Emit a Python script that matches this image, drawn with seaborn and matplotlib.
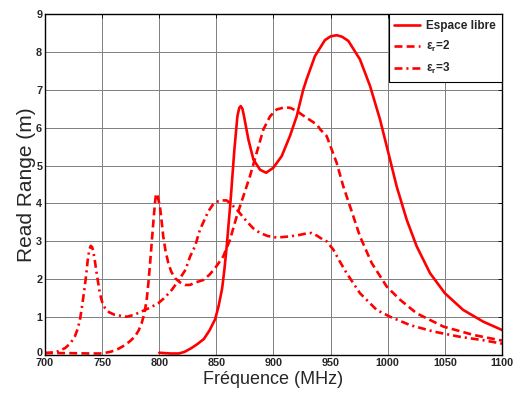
import matplotlib
matplotlib.use("Agg")
import matplotlib.pyplot as plt
import matplotlib.transforms as mtransforms
import seaborn as sns

# ---- Data ----
freq_libre = [800, 810, 817, 822, 828, 833, 839, 844, 849, 852, 855, 857, 859, 862.5, 865.7,
              868.4, 870, 871.3, 872.8, 874.2, 878, 882.4, 888.2, 893.5, 899.8, 907.2, 914.4,
              920.3, 923.2, 926, 929, 936.3, 945, 950, 955.3, 960, 965.5, 975.7, 984.5, 993.2,
              1000.5, 1007.8, 1016.6, 1025.3, 1037, 1050, 1066, 1083.6, 1100]
rr_libre = [0.06, 0.04, 0.04, 0.08, 0.18, 0.28, 0.42, 0.65, 0.95, 1.3, 1.75, 2.25, 2.85, 4.1, 5.4,
            6.3, 6.52, 6.57, 6.5, 6.3, 5.69, 5.16, 4.89, 4.81, 4.94, 5.25, 5.78,
            6.3, 6.66, 7.0, 7.28, 7.89, 8.31, 8.41, 8.44, 8.4, 8.29, 7.8, 7.1, 6.22,
            5.34, 4.45, 3.57, 2.87, 2.16, 1.63, 1.19, 0.88, 0.66]

freq_er2 = [700, 720, 740, 750, 758, 764, 770, 775, 779, 782, 784.6, 787, 789, 790.5, 792,
            793.5, 795, 796.2, 797.2, 798.5, 800.6, 802, 803.5, 805.5, 807.9, 810.5, 813.8,
            818, 822.5, 827, 831.3, 838.6, 844, 848.8, 856, 861.9, 867.8, 873.6, 879.4, 885.3,
            891.1, 897, 902.8, 910, 915, 920.3, 926, 932, 938, 941, 946.5, 950, 955.3, 961.1,
            967, 975.7, 985.9, 999, 1010.7, 1025.3, 1048.7, 1074.9, 1100]
rr_er2 = [0.05, 0.05, 0.04, 0.04, 0.09, 0.16, 0.26, 0.38, 0.5, 0.65, 0.84, 1.1, 1.46, 1.9, 2.43,
          3.0, 3.57, 4.0, 4.26, 4.2, 3.92, 3.55, 3.13, 2.75, 2.43, 2.2, 2.03,
          1.92, 1.85, 1.85, 1.91, 1.98, 2.12, 2.29, 2.6, 3.04, 3.66, 4.19, 4.72, 5.34,
          5.95, 6.3, 6.48, 6.54, 6.52, 6.44, 6.32, 6.2, 6.08, 5.95, 5.78, 5.5, 5.07, 4.45,
          3.92, 3.13, 2.43, 1.81, 1.46, 1.1, 0.75, 0.53, 0.38]

freq_er3 = [700, 710, 717.5, 722, 726, 728.5, 730.6, 732.5, 734.4, 736, 737.4, 738.8, 740,
            741.2, 742.3, 743.8, 745.2, 748, 750, 752.5, 756, 761, 771.5, 778, 784.6, 792,
            799.3, 805, 811, 817, 823, 827, 831.3, 835.7, 842.9, 847, 851.7, 855, 859, 863,
            867.8, 876.5, 882, 888.2, 895, 902.8, 914.4, 923, 929, 933.4, 938, 943.6, 946.5,
            952.4, 958, 964, 975.7, 990.3, 1002, 1019.5, 1039.9, 1063.2, 1083.6, 1100]
rr_er3 = [0.05, 0.08, 0.18, 0.3, 0.48, 0.68, 0.93, 1.3, 1.72, 2.1, 2.51, 2.78, 2.88,
          2.85, 2.73, 2.45, 2.16, 1.63, 1.4, 1.24, 1.13, 1.06, 1.01, 1.06, 1.15, 1.25,
          1.37, 1.52, 1.72, 1.97, 2.25, 2.6, 2.87, 3.31, 3.79, 3.97, 4.06, 4.08, 4.08, 3.98,
          3.84, 3.53, 3.35, 3.22, 3.14, 3.1, 3.13, 3.17, 3.21, 3.22, 3.15, 3.04, 3.0,
          2.78, 2.47, 2.16, 1.63, 1.19, 1.01, 0.79, 0.62, 0.48, 0.39, 0.3]

labels = ["Espace libre", "ε$_{\\mathrm{r}}$=2", "ε$_{\\mathrm{r}}$=3"]
xticks = [700, 750, 800, 850, 900, 950, 1000, 1050, 1100]
yticks = list(range(0, 10))

# ---- Style ----
sns.set_style("white")
plt.rcParams["font.family"] = ["Liberation Sans", "DejaVu Sans"]
plt.rcParams["mathtext.fontset"] = "custom"
plt.rcParams["mathtext.rm"] = "Liberation Sans:bold"
plt.rcParams["mathtext.it"] = "Liberation Sans:bold"
plt.rcParams["mathtext.bf"] = "Liberation Sans:bold"

fig = plt.figure(figsize=(5.16, 3.94), dpi=100)
ax = fig.add_axes([45 / 516, 39 / 394, 457 / 516, 341 / 394])

lw = 1.9
sns.lineplot(x=freq_libre, y=rr_libre, ax=ax, color="red", linewidth=lw,
             linestyle="-", label=labels[0])
sns.lineplot(x=freq_er2, y=rr_er2, ax=ax, color="red", linewidth=lw,
             linestyle=(0, (3.0, 1.6)), label=labels[1])
sns.lineplot(x=freq_er3, y=rr_er3, ax=ax, color="red", linewidth=lw,
             linestyle=(0, (3.0, 1.5, 0.8, 1.5)), label=labels[2])

ax.set_xlim(700, 1100)
ax.set_ylim(0, 9)
ax.set_xticks(xticks)
ax.set_yticks(yticks)
ax.grid(True, color="#7f7f7f", linewidth=0.7)
ax.tick_params(direction="in", top=True, right=True, length=3, width=0.6,
               labelsize=7.8, color="black")
ax.tick_params(axis="x", pad=2)
ax.tick_params(axis="y", pad=2)
for lab in ax.get_xticklabels() + ax.get_yticklabels():
    lab.set_fontweight("bold")
# nudge the "0" label up so it does not collide with "700"
ylab0 = ax.get_yticklabels()[0]
ylab0.set_transform(ylab0.get_transform() +
                    mtransforms.ScaledTranslation(0, 3 / 100, fig.dpi_scale_trans))
for sp in ax.spines.values():
    sp.set_color("black")
    sp.set_linewidth(1.0)

ax.set_xlabel("Fréquence (MHz)", fontsize=13, labelpad=2)
ax.set_ylabel("Read Range (m)", fontsize=15, labelpad=0)

leg = ax.legend(loc="upper right", frameon=True, fancybox=False, framealpha=1,
                edgecolor="black", borderaxespad=0, handlelength=2.2,
                prop={"weight": "bold", "size": 8.5}, labelspacing=0.6,
                borderpad=0.5, handletextpad=0.5)
leg.get_frame().set_linewidth(0.8)

fig.savefig("out.png", dpi=100)
